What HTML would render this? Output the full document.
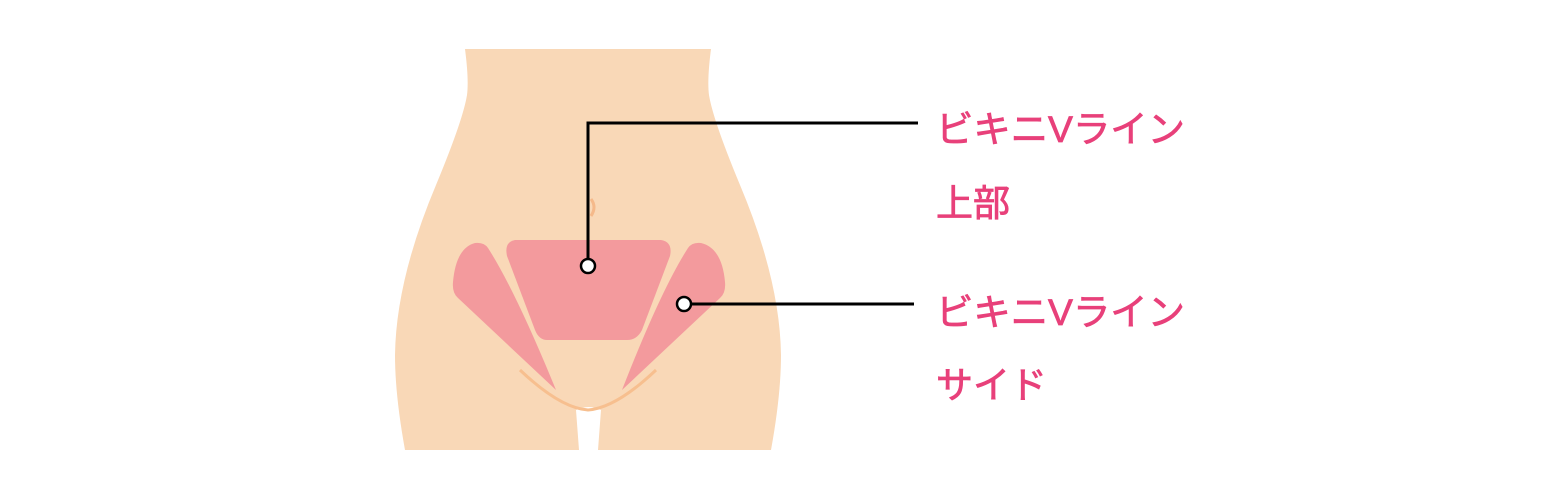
<!DOCTYPE html>
<html><head><meta charset="utf-8"><style>
html,body{margin:0;padding:0;background:#fff;width:1560px;height:500px;overflow:hidden}
svg{display:block}
</style></head><body>
<svg width="1560" height="500" viewBox="0 0 1560 500" xmlns="http://www.w3.org/2000/svg">
<path d="M465,49 L711,49 Q707,80 709,95 Q713,120 740,185 Q780,280 781,355 Q781,395 771,450 L598,450 L601,410 Q589,404 576,410 L579,450 L405,450 Q395,395 395,355 Q396,280 436,185 Q463,120 467,95 Q469,80 465,49 Z" fill="#f9d8b7"/>
<path d="M591,199 Q597,207 591,216" stroke="#f5b98a" stroke-width="3" fill="none"/>
<path d="M520,370 Q560,408 588,410 Q616,408 656,370" stroke="#f7bf8f" stroke-width="3" fill="none"/>
<path d="M515,240 L661,240 Q673,242 670,256 L642,330 Q637,340 627,340 L547,340 Q539,340 535,330 L507,256 Q504,242 515,240 Z" fill="#f39a9d"/>
<path d="M475,243 Q484,242 488,248 Q515,290 556,390 L458,298 Q452,293 453,282 Q456,248 475,243 Z" fill="#f39a9d"/>
<path d="M701,243 Q692,242 688,248 Q661,290 622,390 L720,298 Q726,293 725,282 Q722,248 701,243 Z" fill="#f39a9d"/>
<polyline points="588,266 588,123 918,123" fill="none" stroke="#000" stroke-width="3"/>
<line x1="684" y1="304" x2="914" y2="304" stroke="#000" stroke-width="3"/>
<circle cx="588" cy="266" r="7" fill="#fff" stroke="#000" stroke-width="2.5"/>
<circle cx="684" cy="304" r="7" fill="#fff" stroke="#000" stroke-width="2.5"/>
<g fill="#e8407a" stroke="#e8407a" stroke-width="0.8" font-family="'Liberation Sans','Noto Sans CJK JP',sans-serif" font-size="37">
<text x="936" y="142" textLength="249" lengthAdjust="spacingAndGlyphs">ビキニVライン</text>
<text x="936" y="216">上部</text>
<text x="936" y="325" textLength="249" lengthAdjust="spacingAndGlyphs">ビキニVライン</text>
<text x="936" y="398">サイド</text>
</g>
</svg>
</body></html>
